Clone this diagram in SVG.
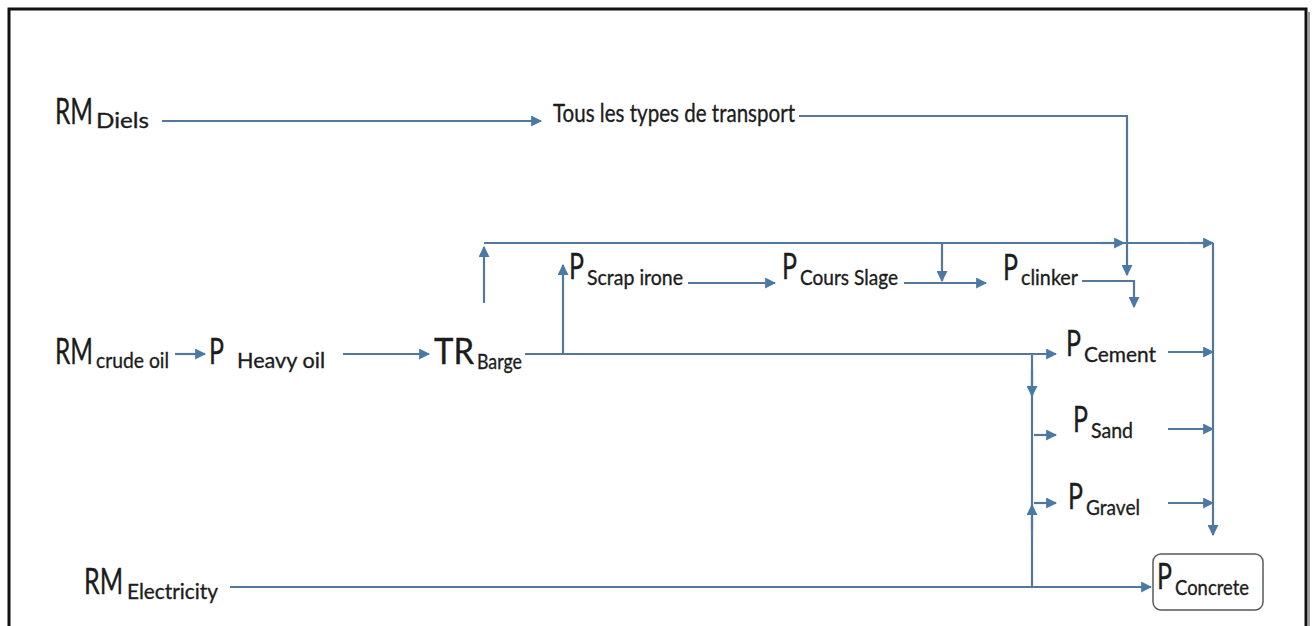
<svg xmlns="http://www.w3.org/2000/svg" width="1312" height="626" viewBox="0 0 1312 626">
  <style>
    .lbl { font-family: Lato, "Open Sans", "Liberation Sans", sans-serif; font-size: 36px; fill: #1c1c1c; stroke: #1c1c1c; stroke-width: 0.35; }
    .sub { font-size: 22px; }
    .tous { font-size: 25px; }
    .wire { fill: none; stroke: #54789c; stroke-width: 2.2; }
    .arr { fill: none; stroke: #54789c; stroke-width: 2.2; marker-end: url(#tip); }
  </style>
  <defs>
    <marker id="tip" viewBox="0 0 10 10" refX="9" refY="5" markerWidth="5" markerHeight="5" markerUnits="strokeWidth" orient="auto">
      <path d="M0,0 L10,5 L0,10 z" fill="#4a79a6"/>
    </marker>
  </defs>

  <rect width="1312" height="626" fill="#ffffff"/>

  <!-- frame -->
  <path d="M9,626 V9 H1306 V626" fill="none" stroke="#111" stroke-width="3"/>
  <line x1="1309" y1="12" x2="1309" y2="626" stroke="#a0a0a0" stroke-width="2"/>

  <!-- connectors -->
  <g id="connectors">
    <path class="arr" d="M162,121 H541"/>
    <path class="arr" d="M799,116 H1127 V275"/>
    <path class="wire" d="M484,243 H1213"/>
    <path class="arr" d="M1100,243 H1124"/>
    <path class="arr" d="M1190,243 H1213"/>
    <path class="arr" d="M1213,243 V535"/>
    <path class="arr" d="M484,303 V247"/>
    <path class="arr" d="M942,243 V281"/>
    <path class="arr" d="M563,354 V265"/>
    <path class="arr" d="M688,283 H775"/>
    <path class="arr" d="M904,283 H986"/>
    <path class="arr" d="M1082,281 H1134 V307"/>
    <path class="arr" d="M175,354 H205"/>
    <path class="arr" d="M343,354 H429"/>
    <path class="arr" d="M525,354 H1056"/>
    <path class="wire" d="M1032,354 V587"/>
    <path class="arr" d="M1032,370 V396"/>
    <path class="arr" d="M1032,530 V505"/>
    <path class="arr" d="M1034,435 H1056"/>
    <path class="arr" d="M1034,503 H1056"/>
    <path class="arr" d="M1168,352 H1213"/>
    <path class="arr" d="M1168,429 H1213"/>
    <path class="arr" d="M1168,503 H1213"/>
    <path class="arr" d="M230,587 H1151"/>
  </g>

  <!-- RM labels are drawn horizontally condensed -->
  <g id="rm-diels">
    <text class="lbl" transform="translate(55,124) scale(0.68,1)">RM</text>
    <text class="lbl sub" x="96" y="128" textLength="53" lengthAdjust="spacingAndGlyphs">Diels</text>
  </g>
  <g id="tous-transport">
    <text class="lbl tous" x="553" y="122" textLength="242" lengthAdjust="spacingAndGlyphs">Tous les types de transport</text>
  </g>
  <g id="p-scrap-irone">
    <text class="lbl"><tspan x="569" y="279" textLength="15" lengthAdjust="spacingAndGlyphs">P</tspan><tspan class="sub" x="587" y="285" textLength="96" lengthAdjust="spacingAndGlyphs">Scrap irone</tspan></text>
  </g>
  <g id="p-cours-slage">
    <text class="lbl"><tspan x="782" y="279" textLength="15" lengthAdjust="spacingAndGlyphs">P</tspan><tspan class="sub" x="800" y="285" textLength="98" lengthAdjust="spacingAndGlyphs">Cours Slage</tspan></text>
  </g>
  <g id="p-clinker">
    <text class="lbl"><tspan x="1003" y="280" textLength="15" lengthAdjust="spacingAndGlyphs">P</tspan><tspan class="sub" x="1021" y="285" textLength="57" lengthAdjust="spacingAndGlyphs">clinker</tspan></text>
  </g>
  <g id="rm-crude-oil">
    <text class="lbl" transform="translate(55,364) scale(0.68,1)">RM</text>
    <text class="lbl sub" x="96" y="368" textLength="73" lengthAdjust="spacingAndGlyphs">crude oil</text>
  </g>
  <g id="p-heavy-oil">
    <text class="lbl"><tspan x="209" y="364" textLength="15" lengthAdjust="spacingAndGlyphs">P</tspan><tspan class="sub" x="237" y="368" textLength="88" lengthAdjust="spacingAndGlyphs">Heavy oil</tspan></text>
  </g>
  <g id="tr-barge">
    <text class="lbl"><tspan x="434" y="364" textLength="40" lengthAdjust="spacingAndGlyphs">TR</tspan><tspan class="sub" x="477" y="369" textLength="45" lengthAdjust="spacingAndGlyphs">Barge</tspan></text>
  </g>
  <g id="p-cement">
    <text class="lbl"><tspan x="1066" y="356" textLength="15" lengthAdjust="spacingAndGlyphs">P</tspan><tspan class="sub" x="1084" y="362" textLength="72" lengthAdjust="spacingAndGlyphs">Cement</tspan></text>
  </g>
  <g id="p-sand">
    <text class="lbl"><tspan x="1073" y="432" textLength="15" lengthAdjust="spacingAndGlyphs">P</tspan><tspan class="sub" x="1091" y="438" textLength="42" lengthAdjust="spacingAndGlyphs">Sand</tspan></text>
  </g>
  <g id="p-gravel">
    <text class="lbl"><tspan x="1068" y="509" textLength="15" lengthAdjust="spacingAndGlyphs">P</tspan><tspan class="sub" x="1086" y="515" textLength="54" lengthAdjust="spacingAndGlyphs">Gravel</tspan></text>
  </g>
  <g id="rm-electricity">
    <text class="lbl" transform="translate(84,594) scale(0.7,1)">RM</text>
    <text class="lbl sub" x="127" y="599" textLength="91" lengthAdjust="spacingAndGlyphs">Electricity</text>
  </g>
  <g id="p-concrete">
    <rect x="1153" y="554" width="110" height="56" rx="8" fill="#fff" stroke="#5a5a5a" stroke-width="1.5"/>
    <text class="lbl"><tspan x="1157" y="589" textLength="15" lengthAdjust="spacingAndGlyphs">P</tspan><tspan class="sub" x="1175" y="595" textLength="74" lengthAdjust="spacingAndGlyphs">Concrete</tspan></text>
  </g>
</svg>
